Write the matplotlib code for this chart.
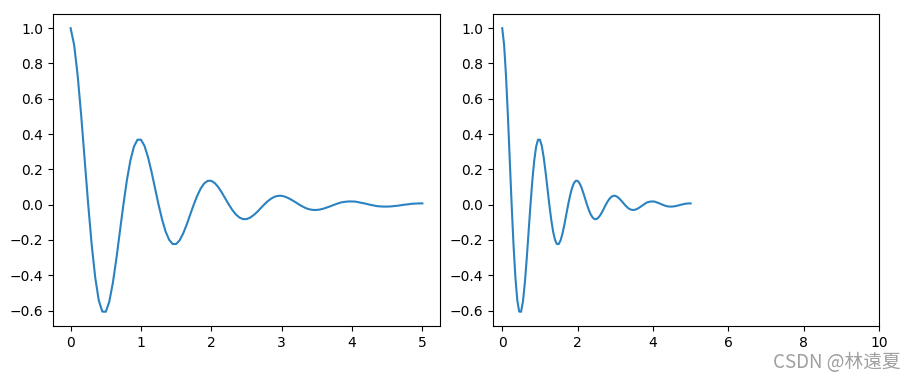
import matplotlib
matplotlib.use("Agg")
import matplotlib.pyplot as plt

# damped oscillation at 0.05 steps
t = [i * 0.05 for i in range(101)]
y = [
    1.000, 0.905, 0.732, 0.506, 0.253, 0.000, -0.229, -0.414, -0.542, -0.606,
    -0.607, -0.549, -0.444, -0.307, -0.153, 0.000, 0.139, 0.251, 0.329, 0.368,
    0.368, 0.333, 0.269, 0.186, 0.093, 0.000, -0.084, -0.152, -0.199, -0.223,
    -0.223, -0.202, -0.163, -0.113, -0.056, 0.000, 0.051, 0.092, 0.121, 0.135,
    0.135, 0.122, 0.099, 0.068, 0.034, 0.000, -0.031, -0.056, -0.073, -0.082,
    -0.082, -0.074, -0.060, -0.042, -0.021, 0.000, 0.019, 0.034, 0.045, 0.050,
    0.050, 0.045, 0.036, 0.025, 0.013, 0.000, -0.011, -0.021, -0.027, -0.030,
    -0.030, -0.027, -0.022, -0.015, -0.008, 0.000, 0.007, 0.013, 0.016, 0.018,
    0.018, 0.017, 0.013, 0.009, 0.005, 0.000, -0.004, -0.008, -0.010, -0.011,
    -0.011, -0.010, -0.008, -0.006, -0.003, 0.000, 0.002, 0.005, 0.006, 0.007,
    0.007,
]
right_xmax = 10

fig = plt.figure(figsize=(9.16, 3.83), dpi=100)
ax1 = fig.add_axes([0.0579, 0.149, 0.4224, 0.8144])
ax2 = fig.add_axes([0.538, 0.149, 0.4216, 0.8144])

for ax in (ax1, ax2):
    ax.plot(t, y, color="#2a82c0", linewidth=1.5)
    ax.tick_params(labelsize=10)

ax2.set_xlim(right=right_xmax)

fig.text(0.983, 0.025, "CSDN @林遠夏", ha="right", va="bottom", fontsize=13.5,
         color="#a0a0a0", family=["Noto Sans CJK SC", "DejaVu Sans"])

fig.savefig("out.png", dpi=100)
